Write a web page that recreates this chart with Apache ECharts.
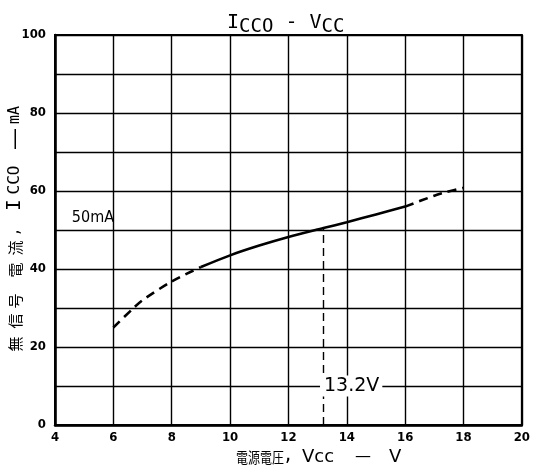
<!DOCTYPE html>
<html><head><meta charset="utf-8">
<script src="https://cdn.jsdelivr.net/npm/echarts@6/dist/echarts.min.js"></script>
<style>html,body{margin:0;padding:0;background:#fff}#c{width:533px;height:474px}</style>
</head><body><div id="c"></div>
<script>
const vccLow = [6, 6.65, 7, 8, 9];
const iccLow = [25, 29.7, 32, 36.8, 40.5];
const vccMid = [9, 10, 11, 12, 13.2, 14, 15, 16];
const iccMid = [40.5, 43.5, 46, 48.2, 50.5, 52, 54, 56];
const vccHigh = [16, 17, 17.4, 18];
const iccHigh = [56, 58.8, 59.7, 60.8];
const xTicks = [4, 6, 8, 10, 12, 14, 16, 18, 20];
const yTicks = [0, 20, 40, 60, 80, 100];
const markV = 13.2;
const markI = 50.5;

const zip = (a, b) => a.map((v, i) => [v, b[i]]);
const chart = echarts.init(document.getElementById('c'));
const tickFont = {fontFamily: 'DejaVu Sans Condensed', fontWeight: 'bold', fontSize: 13, color: '#000'};
const mono = 'DejaVu Sans Mono';
const sans = 'DejaVu Sans';
const cjk = '"Noto Sans CJK JP"';
// y-axis name pieces (text, vertical centre, font, size)
const yNameParts = [
  ['無', 344, cjk, 15], ['信', 321, cjk, 15], ['号', 301, cjk, 15], ['電', 270, cjk, 15], ['流', 248, cjk, 15],
  [',', 232, mono, 15], ['I', 205, mono, 19], ['CCO', 180, mono, 16], ['—', 139, sans, 22], ['mA', 115, mono, 15]
];
const yNameGraphics = yNameParts.map(p => ({
  type: 'text', x: 15, y: p[1], rotation: Math.PI / 2,
  style: {text: p[0], font: p[3] + 'px ' + p[2], fill: '#000', align: 'center', verticalAlign: 'middle'}
}));
chart.setOption({
  animation: false,
  backgroundColor: '#fff',
  grid: {left: 55, right: 8, top: 35, bottom: 49, show: true, borderColor: '#000', borderWidth: 2},
  title: {
    text: '{i|I}{s|CCO}{d| - }{i|V}{s|CC}',
    left: 222, top: 3,
    textStyle: {
      fontWeight: 'normal',
      rich: {
        i: {fontFamily: mono, fontSize: 20, color: '#000', fontWeight: 'normal'},
        s: {fontFamily: mono, fontSize: 19, color: '#000', fontWeight: 'normal', padding: [10, 0, 0, 0]},
        d: {fontFamily: mono, fontSize: 20, color: '#000', fontWeight: 'normal'}
      }
    }
  },
  xAxis: {
    type: 'value', min: 4, max: 20, interval: 2,
    axisLine: {lineStyle: {color: '#000', width: 2.5}},
    axisTick: {show: false},
    axisLabel: Object.assign({margin: 6, formatter: v => xTicks.includes(v) ? String(v) : ''}, tickFont),
    splitLine: {show: true, lineStyle: {color: '#000', width: 1.4}}
  },
  yAxis: {
    type: 'value', min: 0, max: 100, interval: 10,
    axisLine: {show: true, lineStyle: {color: '#000', width: 2.5}},
    axisTick: {show: false},
    axisLabel: Object.assign({margin: 9, formatter: v => yTicks.includes(v) ? String(v) : ''}, tickFont),
    splitLine: {show: true, lineStyle: {color: '#000', width: 1.4}}
  },
  graphic: yNameGraphics.concat([
    {type: 'text', x: 236, y: 457, scaleX: 0.8,
     style: {text: '電源電圧', font: '15px ' + cjk, fill: '#000', verticalAlign: 'middle'}},
    {type: 'text', x: 283, y: 457,
     style: {text: ',', font: '17px ' + mono, fill: '#000', verticalAlign: 'middle'}},
    {type: 'text', x: 302, y: 457,
     style: {text: 'Vcc', font: '18px ' + sans, fill: '#000', verticalAlign: 'middle'}},
    {type: 'text', x: 355, y: 457,
     style: {text: '—', font: '16px ' + sans, fill: '#000', verticalAlign: 'middle'}},
    {type: 'text', x: 389, y: 457,
     style: {text: 'V', font: '18px ' + sans, fill: '#000', verticalAlign: 'middle'}}
  ]),
  series: [
    {type: 'line', data: zip(vccLow, iccLow), symbol: 'none', smooth: 0.3,
     lineStyle: {color: '#000', width: 2.6, type: [9, 6]}},
    {type: 'line', data: zip(vccMid, iccMid), symbol: 'none', smooth: 0.3,
     lineStyle: {color: '#000', width: 2.6}},
    {type: 'line', data: zip(vccHigh, iccHigh), symbol: 'none', smooth: 0.3,
     lineStyle: {color: '#000', width: 2.6, type: [9, 6]},
     markLine: {symbol: 'none', silent: true, label: {show: false},
       lineStyle: {color: '#000', width: 1.4, type: [8, 5]},
       data: [[{coord: [markV, 0]}, {coord: [markV, markI]}]]},
     markPoint: {symbol: 'rect', symbolSize: 1, silent: true, itemStyle: {color: 'rgba(0,0,0,0)'}, data: [
       {coord: [14.15, 10], label: {show: true, position: 'inside', formatter: '13.2V', color: '#000', fontFamily: sans, fontSize: 19,
         backgroundColor: '#fff', padding: [1, 3, 1, 4]}},
       {coord: [5.3, 53.2], label: {show: true, position: 'inside', formatter: '50mA', color: '#000', fontFamily: 'DejaVu Sans Condensed', fontSize: 16}}
     ]}
    }
  ]
});
</script></body></html>
